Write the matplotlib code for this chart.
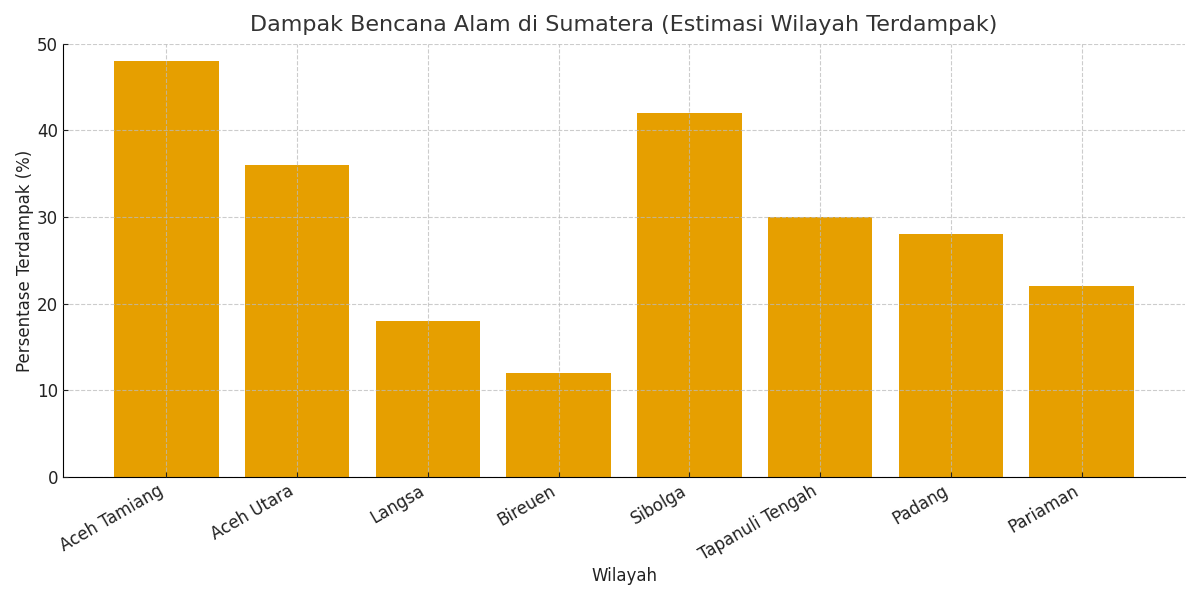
import matplotlib
matplotlib.use('Agg')
import matplotlib.pyplot as plt

regions = ['Aceh Tamiang', 'Aceh Utara', 'Langsa', 'Bireuen', 'Sibolga',
           'Tapanuli Tengah', 'Padang', 'Pariaman']
impact_pct = [48, 36, 18, 12, 42, 30, 28, 22]

fig, ax = plt.subplots(figsize=(12, 6), dpi=100)
ax.bar(regions, impact_pct, color='#E69F00', width=0.8)

ax.set_title('Dampak Bencana Alam di Sumatera (Estimasi Wilayah Terdampak)',
             fontsize=16, color='#333333', pad=9)
ax.set_xlabel('Wilayah', fontsize=12, color='#222222', labelpad=2)
ax.set_ylabel('Persentase Terdampak (%)', fontsize=12, color='#222222', labelpad=2)
ax.tick_params(labelsize=12, colors='#222222', direction='in')
ax.set_ylim(0, 50)
ax.set_xlim(-0.79, len(regions) - 1 + 0.79)
plt.setp(ax.get_xticklabels(), rotation=30, ha='right')

ax.grid(True, linestyle='--', color='#bbbbbb', alpha=0.75, linewidth=0.8)
ax.set_axisbelow(False)
for side in ['top', 'right']:
    ax.spines[side].set_visible(False)

fig.subplots_adjust(left=0.0525, right=0.9875, top=0.927, bottom=0.205)
plt.savefig('out.png')
